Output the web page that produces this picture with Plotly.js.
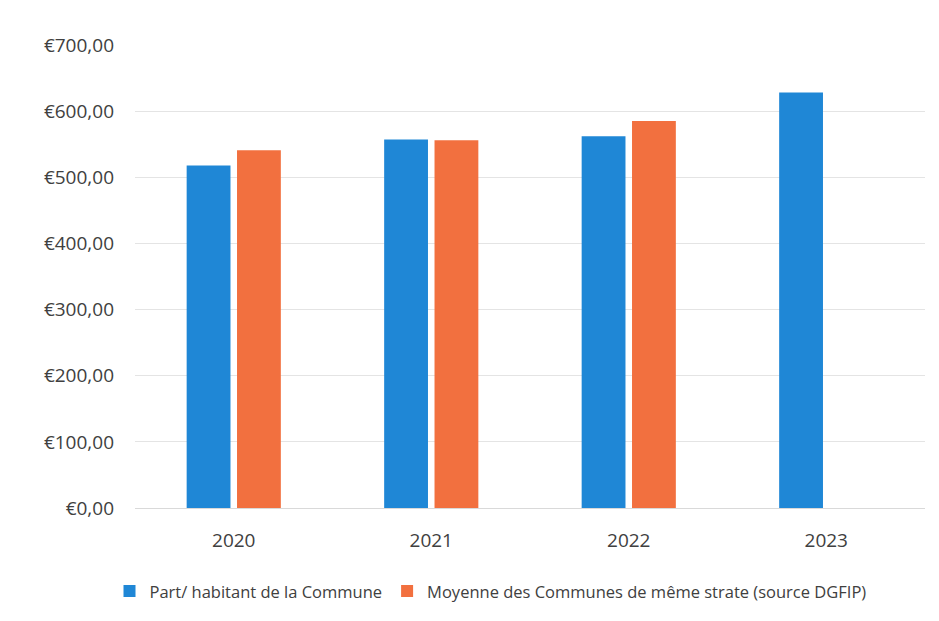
<!DOCTYPE html>
<html><head><meta charset="utf-8">
<script src="https://cdn.plot.ly/plotly-3.0.1.min.js"></script>
<style>html,body{margin:0;padding:0;background:#fff}#c{width:939px;height:621px}</style>
</head><body><div id="c"></div>
<script>
const years = ['2020','2021','2022','2023'];
const commune = [518, 557, 562, 628];
const moyenne = [541, 556, 585, null];
const yTicks = [0,100,200,300,400,500,600,700];
const yTickLabels = ['€0,00','€100,00','€200,00','€300,00','€400,00','€500,00','€600,00','€700,00'];
const seriesNames = ['Part/ habitant de la Commune','Moyenne des Communes de même strate (source DGFIP)'];

const data = [
  {type:'bar', x:years, y:commune, name:seriesNames[0], marker:{color:'#1f87d6'}},
  {type:'bar', x:years, y:moyenne, name:seriesNames[1], marker:{color:'#f2703f'}}
];
const layout = {
  width:939, height:621,
  margin:{l:135, r:14, t:45, b:111},
  paper_bgcolor:'#fff', plot_bgcolor:'#fff',
  barmode:'group', bargap:0.49, bargroupgap:0.13,
  font:{family:'Open Sans, sans-serif', color:'#404040'},
  xaxis:{type:'category', tickfont:{size:19, color:'#404040'}, showgrid:false, zeroline:false, showline:false, ticks:'', ticklabelstandoff:19},
  yaxis:{range:[0,700], tickvals:yTicks, ticktext:yTickLabels, tickfont:{size:19, color:'#404040'},
         showgrid:true, gridcolor:'#e4e4e4', gridwidth:1, zeroline:true, zerolinecolor:'#d9d9d9', ticks:'', ticklabelstandoff:20},
  legend:{orientation:'h', x:0.45, xanchor:'center', y:-0.18, yanchor:'middle', font:{size:16.5, color:'#404040'}, itemwidth:30, traceorder:'normal'},
  showlegend:true
};
Plotly.newPlot('c', data, layout, {displayModeBar:false, staticPlot:true});
</script></body></html>
